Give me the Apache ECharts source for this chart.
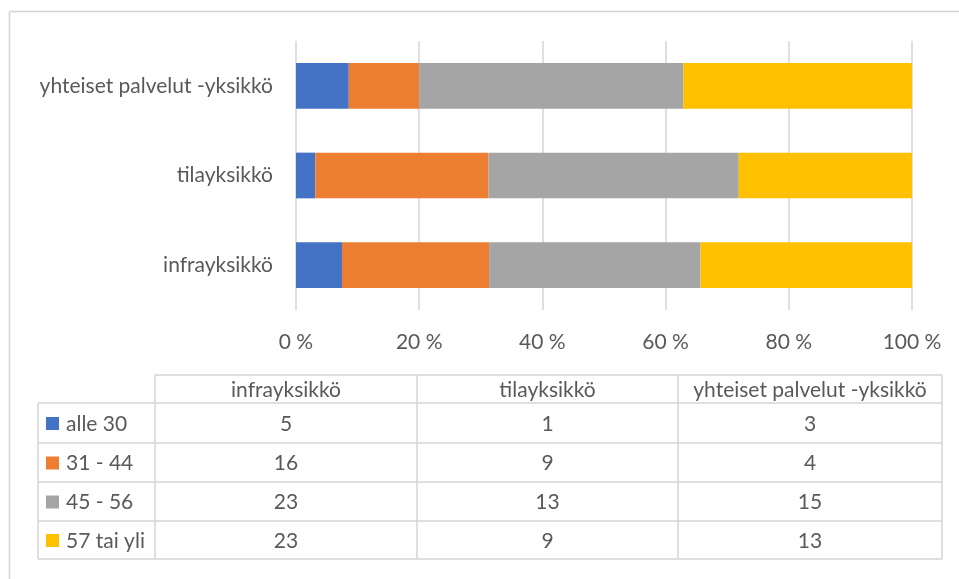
<!DOCTYPE html>
<html>
<head>
<meta charset="utf-8">
<script src="https://cdn.jsdelivr.net/npm/echarts@6/dist/echarts.min.js"></script>
<style>
html,body{margin:0;padding:0;background:#fff;}
#c{width:959px;height:579px;}
</style>
</head>
<body>
<div id="c"></div>
<script>
var categories = ['infrayksikkö', 'tilayksikkö', 'yhteiset palvelut -yksikkö'];
var seriesNames = ['alle 30', '31 - 44', '45 - 56', '57 tai yli'];
var alle30 = [5, 1, 3];
var v31_44 = [16, 9, 4];
var v45_56 = [23, 13, 15];
var v57 = [23, 9, 13];
var colors = ['#4472C4', '#ED7D31', '#A5A5A5', '#FFC000'];
var xTicks = [0, 20, 40, 60, 80, 100];

var counts = [alle30, v31_44, v45_56, v57];
var totals = categories.map(function (c, i) {
  return counts.reduce(function (s, arr) { return s + arr[i]; }, 0);
});

var FONT = 'Lato';
var FS = 21;
var TXT = '#595959';
var LINE = '#d4d4d4';

var series = counts.map(function (arr, k) {
  return {
    name: seriesNames[k],
    type: 'bar',
    stack: 'total',
    barCategoryGap: '49%',
    itemStyle: { color: colors[k] },
    data: arr.map(function (v, i) { return v / totals[i] * 100; })
  };
});

// table graphics
var colX = [38, 155, 417, 678, 942];
var rowY = [375, 403, 443, 482, 521, 559];
var g = [];
function line(x1, y1, x2, y2) {
  g.push({ type: 'line', silent: true, shape: { x1: x1, y1: y1, x2: x2, y2: y2 }, style: { stroke: LINE, lineWidth: 1.5 } });
}
// outer frame
line(9.5, 11.5, 959, 11.5);
line(9.5, 11.5, 9.5, 579);
// table
line(colX[1], rowY[0], colX[4], rowY[0]);
for (var r = 1; r < rowY.length; r++) line(colX[0], rowY[r], colX[4], rowY[r]);
line(colX[0], rowY[1], colX[0], rowY[5]);
for (var c = 1; c < colX.length; c++) line(colX[c], rowY[0], colX[c], rowY[5]);

categories.forEach(function (cat, i) {
  g.push({ type: 'text', silent: true, x: (colX[i + 1] + colX[i + 2]) / 2, y: (rowY[0] + rowY[1]) / 2 + 1,
    style: { text: cat, fill: TXT, font: FS + 'px ' + FONT, align: 'center', verticalAlign: 'middle' } });
});
counts.forEach(function (arr, k) {
  var yc = (rowY[k + 1] + rowY[k + 2]) / 2 + 1;
  g.push({ type: 'rect', silent: true, shape: { x: 46, y: yc - 7, width: 13, height: 13 }, style: { fill: colors[k] } });
  g.push({ type: 'text', silent: true, x: 66, y: yc,
    style: { text: seriesNames[k], fill: TXT, font: FS + 'px ' + FONT, align: 'left', verticalAlign: 'middle' } });
  arr.forEach(function (v, i) {
    g.push({ type: 'text', silent: true, x: (colX[i + 1] + colX[i + 2]) / 2, y: yc,
      style: { text: String(v), fill: TXT, font: FS + 'px ' + FONT, align: 'center', verticalAlign: 'middle' } });
  });
});

var chart = echarts.init(document.getElementById('c'), null, { renderer: 'canvas' });
chart.setOption({
  animation: false,
  backgroundColor: '#fff',
  grid: { left: 296, right: 47, top: 41, bottom: 269, containLabel: false },
  xAxis: {
    type: 'value', min: 0, max: 100, interval: 20,
    axisLine: { show: false }, axisTick: { show: false },
    splitLine: { lineStyle: { color: LINE, width: 1.5 } },
    axisLabel: { margin: 22, color: TXT, fontFamily: FONT, fontSize: FS,
      formatter: function (v) { return xTicks.indexOf(v) >= 0 ? v + ' %' : ''; } }
  },
  yAxis: {
    type: 'category', data: categories,
    axisLine: { show: false }, axisTick: { show: false },
    axisLabel: { margin: 23, color: TXT, fontFamily: FONT, fontSize: FS }
  },
  series: series,
  graphic: g
});
</script>
</body>
</html>
